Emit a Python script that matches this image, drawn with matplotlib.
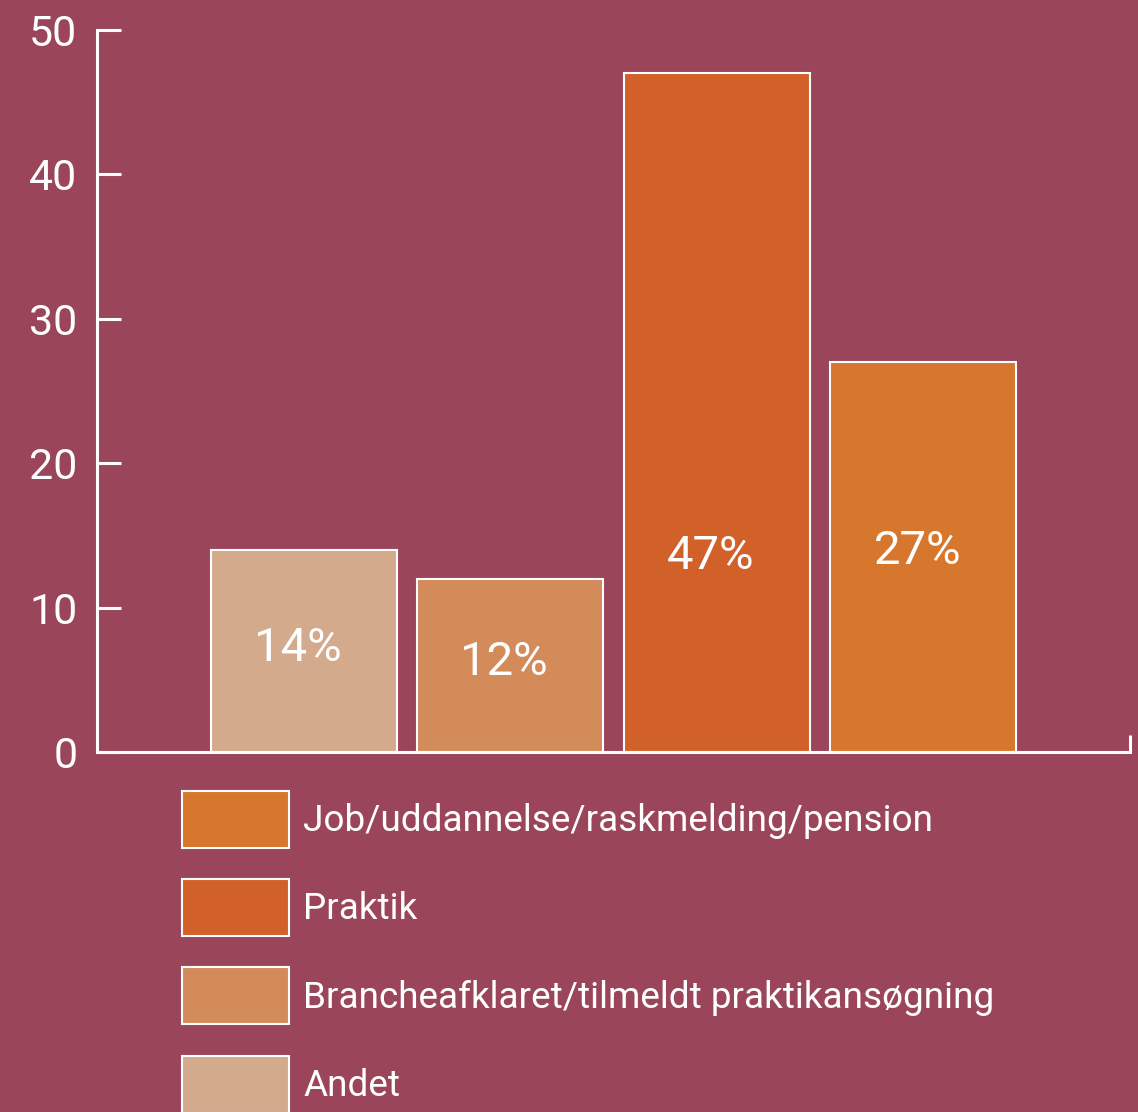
import matplotlib
matplotlib.use("Agg")
import matplotlib.pyplot as plt
from matplotlib.patches import Patch

categories = ["Andet", "Brancheafklaret/tilmeldt praktikansøgning",
              "Praktik", "Job/uddannelse/raskmelding/pension"]
values = [14, 12, 47, 27]
value_labels = ["14%", "12%", "47%", "27%"]
colors = ["#D4AA8C", "#D48B5A", "#D26029", "#D6772D"]
label_y = [7.2, 6.2, 13.6, 13.9]
yticks = [0, 10, 20, 30, 40, 50]

bg = "#9A4559"
plt.rcParams["font.family"] = ["Roboto", "DejaVu Sans"]

fig = plt.figure(figsize=(11.38, 11.12), dpi=100, facecolor=bg)
ax = fig.add_axes([97 / 1138, 1 - 752 / 1112, 1033 / 1138, 722 / 1112])
ax.set_facecolor(bg)

x = range(len(values))
ax.bar(x, values, width=0.9, color=colors, edgecolor="white", linewidth=1.5)
for xi, lab, ly in zip(x, value_labels, label_y):
    ax.text(xi - 0.03, ly, lab, ha="center", va="center", color="white",
            fontsize=34)

ax.set_xlim(-1, 4)
ax.set_ylim(0, 50)
ax.set_yticks(yticks)
ax.set_xticks([4])
ax.set_xticklabels([""])
ax.tick_params(axis="y", direction="in", length=17, width=2.2, colors="white",
               labelsize=31, pad=14)
ax.tick_params(axis="x", direction="in", length=12, width=2.2, colors="white")
for s in ["top", "right"]:
    ax.spines[s].set_visible(False)
for s in ["left", "bottom"]:
    ax.spines[s].set_color("white")
    ax.spines[s].set_linewidth(2.2)

handles = [Patch(facecolor=c, edgecolor="white", linewidth=1.5) for c in colors]
leg = fig.legend(handles[::-1], categories[::-1], loc="upper left",
                 bbox_to_anchor=(182 / 1138, 1 - 791 / 1112),
                 frameon=False, borderpad=0, borderaxespad=0,
                 fontsize=26.6, handlelength=2.9, handleheight=1.99,
                 handletextpad=0.38, labelspacing=0.85, labelcolor="white")

fig.savefig("out.png", dpi=100, facecolor=bg)
